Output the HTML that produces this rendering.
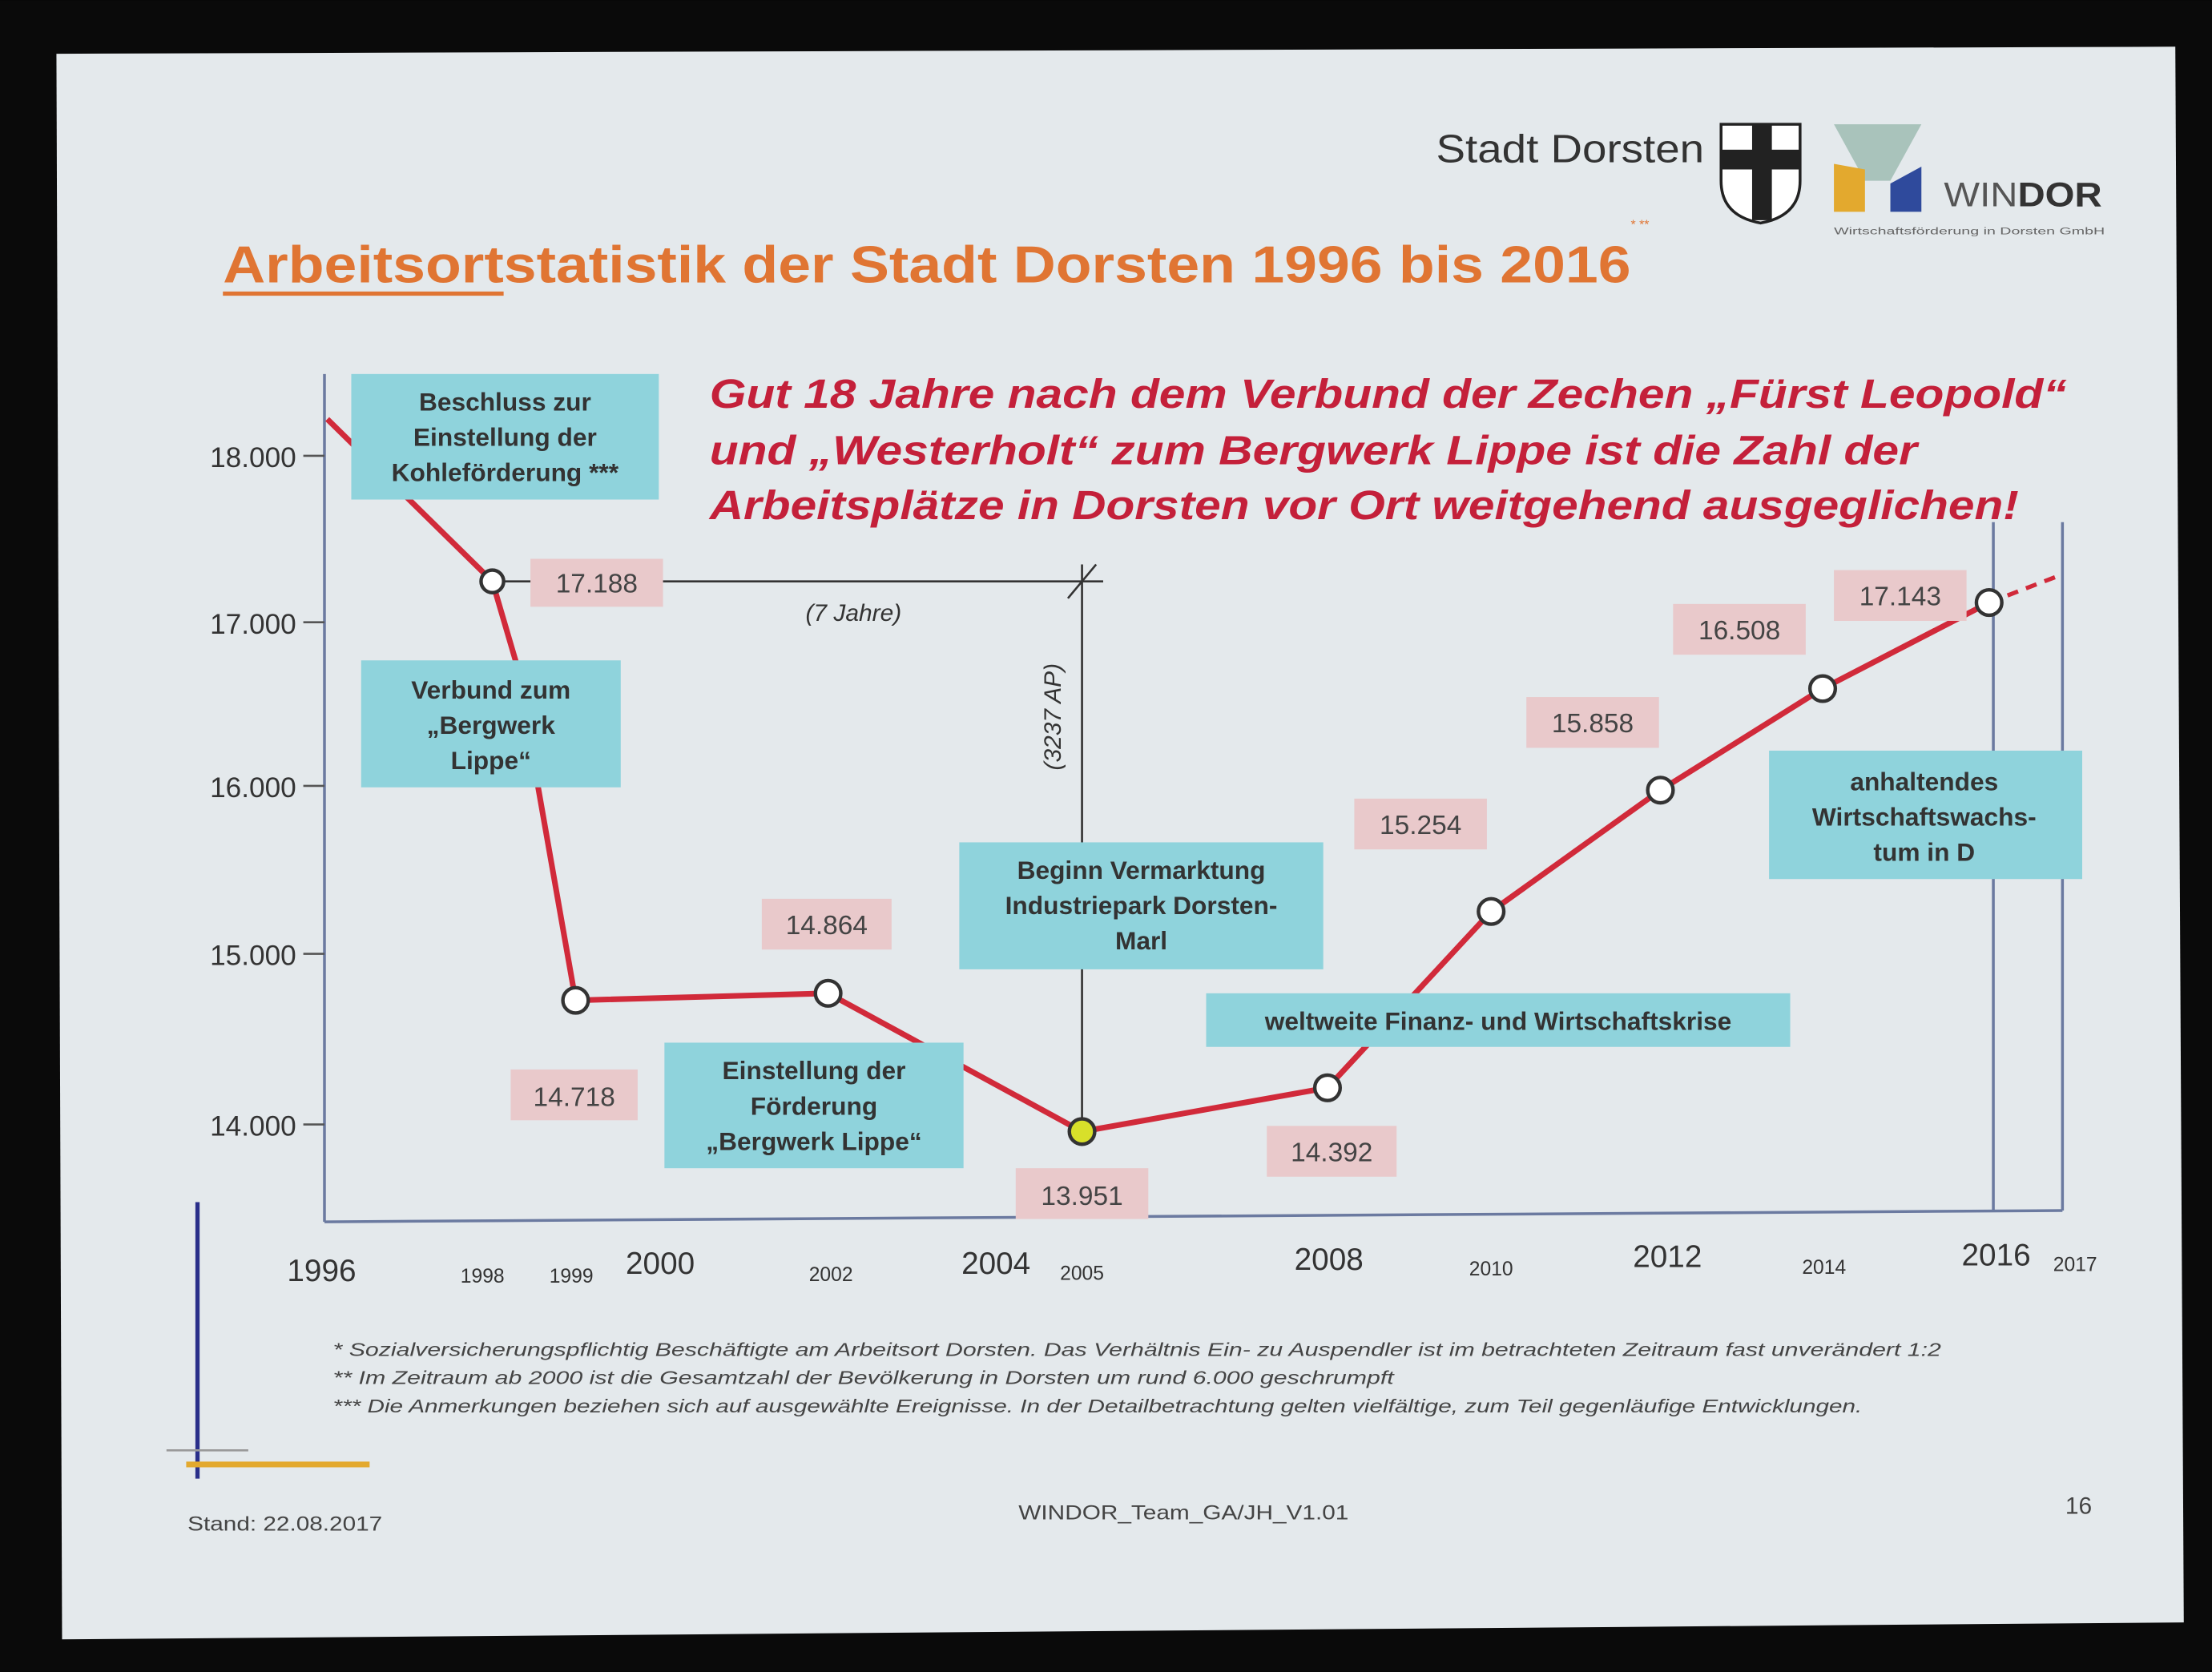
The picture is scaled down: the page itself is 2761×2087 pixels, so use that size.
<!DOCTYPE html>
<html><head><meta charset="utf-8"><style>
html,body{margin:0;padding:0;background:#000;}
svg{display:block;}
text{font-family:"Liberation Sans",sans-serif;}
</style></head><body>
<svg width="2761" height="2087" viewBox="0 0 1568 1185" xmlns="http://www.w3.org/2000/svg">
<rect width="1568" height="1185" fill="#0a0a0a"/>
<polygon points="40,38 1542,33 1548,1150 44,1162" fill="#e4e9ec"/>
<!-- header -->
<text x="1018" y="115" font-size="28" fill="#333" textLength="190" lengthAdjust="spacingAndGlyphs">Stadt Dorsten</text>
<path d="M1220,88 h56 v40 q0,25 -28,30 q-28,-5 -28,-30z" fill="#fff" stroke="#222" stroke-width="2"/>
<rect x="1242" y="88" width="14" height="68" fill="#222"/>
<rect x="1220" y="106" width="56" height="14" fill="#222"/>
<polygon points="1300,88 1362,88 1340,128 1322,128" fill="#a9c3bb"/>
<polygon points="1300,116 1322,120 1322,150 1300,150" fill="#e3a92e"/>
<polygon points="1340,130 1362,118 1362,150 1340,150" fill="#2f4a9c"/>
<text x="1378" y="146" font-size="24" fill="#555" textLength="112" lengthAdjust="spacingAndGlyphs">WIN<tspan font-weight="bold" fill="#333">DOR</tspan></text>
<text x="1300" y="166" font-size="7" fill="#666" textLength="192" lengthAdjust="spacingAndGlyphs">Wirtschaftsförderung in Dorsten GmbH</text>
<!-- title -->
<text x="158" y="200" font-size="37" font-weight="bold" fill="#e07533" textLength="998" lengthAdjust="spacingAndGlyphs">Arbeitsortstatistik der Stadt Dorsten 1996 bis 2016</text>
<line x1="158" y1="208" x2="357" y2="208" stroke="#e07533" stroke-width="3"/>
<text x="1156" y="162" font-size="9" fill="#e07533">* **</text>
<!-- axes -->
<g stroke="#6b7aa0" stroke-width="2" fill="none">
<line x1="230" y1="265" x2="230" y2="866"/>
<line x1="230" y1="866" x2="1462" y2="858"/>
<line x1="1462" y1="370" x2="1462" y2="858"/>
<line x1="1413" y1="370" x2="1413" y2="858"/>
</g>
<g font-size="20" fill="#333" text-anchor="end">
<text x="210" y="331">18.000</text>
<text x="210" y="449">17.000</text>
<text x="210" y="565">16.000</text>
<text x="210" y="684">15.000</text>
<text x="210" y="805">14.000</text>
</g>
<g stroke="#555" stroke-width="1.5">
<line x1="215" y1="323" x2="230" y2="323"/><line x1="215" y1="441" x2="230" y2="441"/><line x1="215" y1="557" x2="230" y2="557"/><line x1="215" y1="676" x2="230" y2="676"/><line x1="215" y1="797" x2="230" y2="797"/>
</g>
<g fill="#333" text-anchor="middle">
<text x="228" y="908" font-size="22">1996</text>
<text x="342" y="909" font-size="14">1998</text>
<text x="405" y="909" font-size="14">1999</text>
<text x="468" y="903" font-size="22">2000</text>
<text x="589" y="908" font-size="14">2002</text>
<text x="706" y="903" font-size="22">2004</text>
<text x="767" y="907" font-size="14">2005</text>
<text x="942" y="900" font-size="22">2008</text>
<text x="1057" y="904" font-size="14">2010</text>
<text x="1182" y="898" font-size="22">2012</text>
<text x="1293" y="903" font-size="14">2014</text>
<text x="1415" y="897" font-size="22">2016</text>
<text x="1471" y="901" font-size="14">2017</text>
</g>
<!-- annotations lines -->
<g stroke="#333" stroke-width="1.5">
<line x1="355" y1="412" x2="782" y2="412"/>
<line x1="767" y1="400" x2="767" y2="800"/>
<line x1="757" y1="424" x2="777" y2="400"/>
</g>
<text x="605" y="440" font-size="17" font-style="italic" fill="#333" text-anchor="middle">(7 Jahre)</text>
<text transform="translate(752,508) rotate(-90)" font-size="17" font-style="italic" fill="#333" text-anchor="middle">(3237 AP)</text>
<!-- series -->
<polyline points="232,297 349,412 366,470 408,709 587,704 767,802 941,771 1057,646 1177,560 1292,488 1410,427" fill="none" stroke="#d12a3a" stroke-width="4"/>
<line x1="1410" y1="427" x2="1462" y2="407" stroke="#d12a3a" stroke-width="3" stroke-dasharray="8,6"/>
<g fill="#fff" stroke="#333" stroke-width="2.5">
<circle cx="349" cy="412" r="8"/><circle cx="408" cy="709" r="9"/><circle cx="587" cy="704" r="9"/>
<circle cx="941" cy="771" r="9"/><circle cx="1057" cy="646" r="9"/><circle cx="1177" cy="560" r="9"/><circle cx="1292" cy="488" r="9"/><circle cx="1410" cy="427" r="9"/>
</g>
<circle cx="767" cy="802" r="9" fill="#d8e02a" stroke="#333" stroke-width="2.5"/>
<!-- value labels -->
<g fill="#e9c9cb">
<rect x="376" y="396" width="94" height="34"/><rect x="362" y="758" width="90" height="36"/>
<rect x="540" y="637" width="92" height="36"/><rect x="720" y="828" width="94" height="36"/>
<rect x="898" y="798" width="92" height="36"/><rect x="960" y="566" width="94" height="36"/>
<rect x="1082" y="494" width="94" height="36"/><rect x="1186" y="428" width="94" height="36"/>
<rect x="1300" y="404" width="94" height="36"/>
</g>
<g font-size="19" fill="#444" text-anchor="middle">
<text x="423" y="420">17.188</text><text x="407" y="784">14.718</text><text x="586" y="662">14.864</text>
<text x="767" y="854">13.951</text><text x="944" y="823">14.392</text><text x="1007" y="591">15.254</text>
<text x="1129" y="519">15.858</text><text x="1233" y="453">16.508</text><text x="1347" y="429">17.143</text>
</g>
<!-- blue boxes -->
<g fill="#8fd3dc">
<rect x="249" y="265" width="218" height="89"/><rect x="256" y="468" width="184" height="90"/>
<rect x="680" y="597" width="258" height="90"/><rect x="471" y="739" width="212" height="89"/>
<rect x="855" y="704" width="414" height="38"/><rect x="1254" y="532" width="222" height="91"/>
</g>
<g font-size="18" font-weight="bold" fill="#333" text-anchor="middle">
<text x="358" y="291">Beschluss zur</text><text x="358" y="316">Einstellung der</text><text x="358" y="341">Kohleförderung ***</text>
<text x="348" y="495">Verbund zum</text><text x="348" y="520">„Bergwerk</text><text x="348" y="545">Lippe“</text>
<text x="809" y="623">Beginn Vermarktung</text><text x="809" y="648">Industriepark Dorsten-</text><text x="809" y="673">Marl</text>
<text x="577" y="765">Einstellung der</text><text x="577" y="790">Förderung</text><text x="577" y="815">„Bergwerk Lippe“</text>
<text x="1062" y="730">weltweite Finanz- und Wirtschaftskrise</text>
<text x="1364" y="560">anhaltendes</text><text x="1364" y="585">Wirtschaftswachs-</text><text x="1364" y="610">tum in D</text>
</g>
<g font-size="29" font-weight="bold" font-style="italic" fill="#c4203a" lengthAdjust="spacingAndGlyphs">
<text x="503" y="289" textLength="962" lengthAdjust="spacingAndGlyphs">Gut 18 Jahre nach dem Verbund der Zechen „Fürst Leopold“</text>
<text x="503" y="329" textLength="856" lengthAdjust="spacingAndGlyphs">und „Westerholt“ zum Bergwerk Lippe ist die Zahl der</text>
<text x="503" y="368" textLength="928" lengthAdjust="spacingAndGlyphs">Arbeitsplätze in Dorsten vor Ort weitgehend ausgeglichen!</text>
</g>
<!-- footnotes -->
<g font-size="13" font-style="italic" fill="#444">
<text x="236" y="961" textLength="1140" lengthAdjust="spacingAndGlyphs">*     Sozialversicherungspflichtig Beschäftigte am Arbeitsort Dorsten. Das Verhältnis Ein- zu Auspendler ist im betrachteten Zeitraum fast unverändert 1:2</text>
<text x="236" y="981" textLength="752" lengthAdjust="spacingAndGlyphs">**   Im Zeitraum ab 2000 ist die Gesamtzahl der Bevölkerung in Dorsten um rund 6.000 geschrumpft</text>
<text x="236" y="1001" textLength="1084" lengthAdjust="spacingAndGlyphs">***  Die Anmerkungen beziehen sich auf ausgewählte Ereignisse. In der Detailbetrachtung gelten vielfältige, zum Teil gegenläufige Entwicklungen.</text>
</g>
<line x1="140" y1="852" x2="140" y2="1048" stroke="#2a2f8a" stroke-width="3"/>
<line x1="132" y1="1038" x2="262" y2="1038" stroke="#e3a92e" stroke-width="4"/>
<line x1="118" y1="1028" x2="176" y2="1028" stroke="#999" stroke-width="1.5"/>
<text x="133" y="1085" font-size="14" fill="#444" textLength="138" lengthAdjust="spacingAndGlyphs">Stand: 22.08.2017</text>
<text x="722" y="1077" font-size="14" fill="#444" textLength="234" lengthAdjust="spacingAndGlyphs">WINDOR_Team_GA/JH_V1.01</text>
<text x="1464" y="1073" font-size="17" fill="#444">16</text>
</svg>
</body></html>
